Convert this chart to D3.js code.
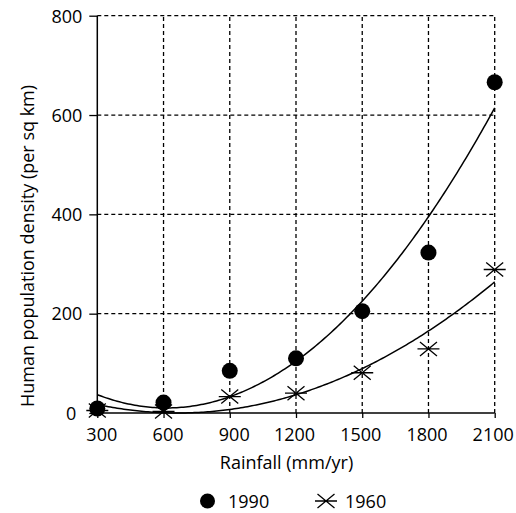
<!DOCTYPE html>
<html>
<head>
<meta charset="utf-8">
<script src="https://cdn.jsdelivr.net/npm/d3@7"></script>
<style>
  html, body { margin: 0; padding: 0; background: #fff; }
  svg { display: block; font-family: "Open Sans", sans-serif; }
</style>
</head>
<body>
<svg id="chart" width="516" height="513"></svg>
<script>
const rainfall = [300, 600, 900, 1200, 1500, 1800, 2100];
const density1990 = [9, 21, 85, 110, 205, 323, 666];
const density1960 = [5, 3, 33, 40, 81, 129, 289];
const xTicks = [300, 600, 900, 1200, 1500, 1800, 2100];
const yTicks = [0, 200, 400, 600, 800];
const seriesNames = ["1990", "1960"];

const FONT = "Open Sans";
const FS = 18;
const svg = d3.select("#chart");
const W = 516, H = 513;
const margin = { left: 97.3, right: W - 494.7, top: 15.7, bottom: H - 413 };

const x = d3.scaleLinear().domain([300, 2100]).range([margin.left, W - margin.right]);
const y = d3.scaleLinear().domain([0, 800]).range([H - margin.bottom, margin.top]);

// quadratic least-squares trend line
function quadFit(xs, ys) {
  const n = xs.length;
  let S = [0,0,0,0,0], T = [0,0,0];
  for (let i = 0; i < n; i++) {
    for (let k = 0; k < 5; k++) S[k] += Math.pow(xs[i], k);
    for (let k = 0; k < 3; k++) T[k] += ys[i] * Math.pow(xs[i], k);
  }
  const A = [[S[0],S[1],S[2],T[0]],[S[1],S[2],S[3],T[1]],[S[2],S[3],S[4],T[2]]];
  for (let i = 0; i < 3; i++) {
    for (let j = i+1; j < 3; j++) {
      const f = A[j][i] / A[i][i];
      for (let k = i; k < 4; k++) A[j][k] -= f * A[i][k];
    }
  }
  const c = [0,0,0];
  for (let i = 2; i >= 0; i--) {
    let s = A[i][3];
    for (let k = i+1; k < 3; k++) s -= A[i][k] * c[k];
    c[i] = s / A[i][i];
  }
  return v => c[0] + c[1]*v + c[2]*v*v;
}

// grid
const grid = svg.append("g").attr("stroke", "#000").attr("stroke-width", 1.3)
  .attr("stroke-dasharray", "4,3").attr("fill", "none");
yTicks.filter(t => t > 0).forEach(t => {
  grid.append("line").attr("x1", x(300)).attr("x2", x(2100))
    .attr("y1", y(t)).attr("y2", y(t));
});
xTicks.filter(t => t > 300).forEach(t => {
  grid.append("line").attr("x1", x(t)).attr("x2", x(t))
    .attr("y1", y(0)).attr("y2", y(800));
});

// trend curves
const xsFine = d3.range(300, 2100.1, 10);
[density1990, density1960].forEach(ds => {
  const f = quadFit(rainfall, ds);
  svg.append("path")
    .attr("d", d3.line().x(v => x(v)).y(v => y(f(v)))(xsFine))
    .attr("fill", "none").attr("stroke", "#000").attr("stroke-width", 1.5);
});

// axes
const xAxis = svg.append("g").attr("transform", `translate(0,${y(0)})`)
  .call(d3.axisBottom(x).tickValues(xTicks).tickSize(5).tickPadding(8).tickFormat(d3.format("d")));
const yAxis = svg.append("g").attr("transform", `translate(${x(300)},0)`)
  .call(d3.axisLeft(y).tickValues(yTicks).tickSize(8).tickPadding(7).tickFormat(d3.format("d")));
[xAxis, yAxis].forEach(a => {
  a.select(".domain").attr("stroke", "#000").attr("stroke-width", 1.5);
  a.selectAll(".tick line").attr("stroke", "#000").attr("stroke-width", 1.3);
  a.selectAll("text").attr("font-size", FS).attr("font-family", FONT).attr("fill", "#000");
});
xAxis.select(".domain").attr("d", `M${x(300)},0H${x(2100)}`);
yAxis.select(".domain").attr("d", `M0,${y(0)}V${y(800)}`);
xAxis.selectAll(".tick text").attr("dy", null).attr("y", 28)
  .attr("dx", d => d <= 900 ? 4 : -2);
yAxis.selectAll(".tick text").attr("dy", "0.35em")
  .attr("dx", d => d === 0 ? -6 : 0);

// markers
function asterisk(g, cx, cy, s) {
  const p = `M${cx - 11*s},${cy}H${cx + 11*s}` +
            `M${cx - 8.5*s},${cy - 7*s}L${cx + 8.5*s},${cy + 7*s}` +
            `M${cx - 8.5*s},${cy + 7*s}L${cx + 8.5*s},${cy - 7*s}`;
  g.append("path").attr("d", p).attr("stroke", "#000").attr("stroke-width", 1.3).attr("fill", "none");
}
const pts = svg.append("g");
rainfall.forEach((r, i) => {
  asterisk(pts, x(r), y(density1960[i]), 1);
});
rainfall.forEach((r, i) => {
  pts.append("circle").attr("cx", x(r)).attr("cy", y(density1990[i])).attr("r", 8).attr("fill", "#000");
});

// axis titles
svg.append("text").attr("x", 286.5).attr("y", 468.5)
  .attr("text-anchor", "middle").attr("font-size", FS).attr("font-family", FONT).text("Rainfall (mm/yr)");
svg.append("text").attr("transform", "translate(34,246) rotate(-90)")
  .attr("text-anchor", "middle").attr("font-size", FS).attr("font-family", FONT)
  .text("Human population density (per sq km)");

// legend
const lg = svg.append("g");
lg.append("circle").attr("cx", 207.5).attr("cy", 501).attr("r", 7.5).attr("fill", "#000");
lg.append("text").attr("x", 228).attr("y", 507.5).attr("font-size", FS).attr("font-family", FONT).text(seriesNames[0]);
asterisk(lg, 326, 501, 1);
lg.append("text").attr("x", 345).attr("y", 507.5).attr("font-size", FS).attr("font-family", FONT).text(seriesNames[1]);
</script>
</body>
</html>
